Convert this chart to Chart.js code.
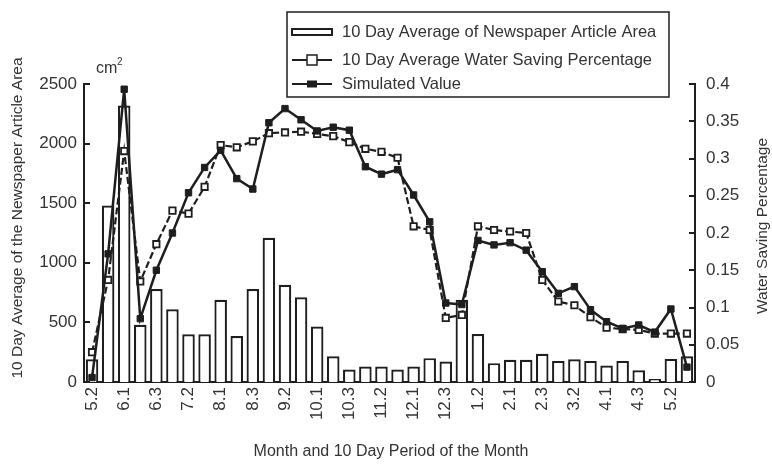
<!DOCTYPE html>
<html>
<head>
<meta charset="utf-8">
<script src="https://cdn.jsdelivr.net/npm/chart.js@4/dist/chart.umd.min.js"></script>
<style>
  html, body { margin: 0; padding: 0; background: #fff; }
  #wrap { position: relative; width: 772px; height: 469px; }
</style>
</head>
<body>
<div id="wrap"><canvas id="chart" width="772" height="469"></canvas></div>
<script>
// --- Data ---
const periods = [
  '5.2', '5.3', '6.1', '6.2', '6.3', '7.1', '7.2', '7.3', '8.1', '8.2', '8.3',
  '9.1', '9.2', '9.3', '10.1', '10.2', '10.3', '11.1', '11.2', '11.3',
  '12.1', '12.2', '12.3', '1.1', '1.2', '1.3', '2.1', '2.2', '2.3',
  '3.1', '3.2', '3.3', '4.1', '4.2', '4.3', '5.1', '5.2', '5.3'
];

// 10 day average newspaper article area (cm2), left axis
const areaValues = [
  190, 1480, 2320, 480, 780, 610, 400, 400, 690, 385, 780,
  1210, 815, 710, 465, 215, 105, 130, 130, 105,
  130, 200, 172, 690, 402, 158, 186, 186, 236,
  177, 190, 177, 138, 177, 99, 25, 194, 216
];

// 10 day average water saving percentage, right axis
const savingValues = [
  0.040, 0.137, 0.310, 0.135, 0.185, 0.230, 0.226, 0.262, 0.318, 0.315, 0.323,
  0.334, 0.335, 0.336, 0.333, 0.330, 0.322, 0.313, 0.309, 0.301,
  0.209, 0.204, 0.086, 0.090, 0.209, 0.204, 0.202, 0.200, 0.137,
  0.108, 0.103, 0.087, 0.073, 0.071, 0.070, 0.065, 0.065, 0.065
];

// simulated value, right axis
const simulatedValues = [
  0.006, 0.172, 0.393, 0.085, 0.150, 0.200, 0.254, 0.288, 0.311, 0.273, 0.259,
  0.348, 0.367, 0.352, 0.337, 0.342, 0.338, 0.289, 0.279, 0.285,
  0.251, 0.215, 0.106, 0.104, 0.190, 0.184, 0.187, 0.177, 0.148,
  0.119, 0.128, 0.097, 0.081, 0.072, 0.0765, 0.067, 0.098, 0.020
];

const areaTicks = ['0', '500', '1000', '1500', '2000', '2500'];
const savingTicks = ['0', '0.05', '0.1', '0.15', '0.2', '0.25', '0.3', '0.35', '0.4'];

const legendLabels = [
  '10 Day Average of Newspaper Article Area',
  '10 Day Average Water Saving Percentage',
  'Simulated Value'
];

// --- Styles ---
const ink = '#1e1e1e';
const textColor = '#333';
const fontFamily = '"Liberation Sans", Arial, Helvetica, sans-serif';

// --- Plugin: inward ticks, titles, cm2 unit, boxed legend ---
const decorations = {
  id: 'decorations',
  afterDraw(chart) {
    const ctx = chart.ctx;
    const area = chart.chartArea;
    const yl = chart.scales.y;
    const yr = chart.scales.y1;
    ctx.save();
    ctx.strokeStyle = ink;
    ctx.lineWidth = 2;

    // inward tick marks
    areaTicks.forEach(v => {
      const py = Math.round(yl.getPixelForValue(Number(v)));
      ctx.beginPath();
      ctx.moveTo(area.left, py);
      ctx.lineTo(area.left + 6, py);
      ctx.stroke();
    });
    savingTicks.forEach(v => {
      const py = Math.round(yr.getPixelForValue(Number(v)));
      ctx.beginPath();
      ctx.moveTo(area.right, py);
      ctx.lineTo(area.right - 6, py);
      ctx.stroke();
    });

    // axis titles
    ctx.fillStyle = textColor;
    ctx.font = '15.5px ' + fontFamily;
    ctx.textAlign = 'center';
    ctx.textBaseline = 'middle';
    ctx.save();
    ctx.translate(18, 218);
    ctx.rotate(-Math.PI / 2);
    ctx.fillText('10 Day Average of the Newspaper Article Area', 0, 0);
    ctx.restore();
    ctx.save();
    ctx.translate(763, 226);
    ctx.rotate(-Math.PI / 2);
    ctx.fillText('Water Saving Percentage', 0, 0);
    ctx.restore();
    ctx.font = '16px ' + fontFamily;
    ctx.fillText('Month and 10 Day Period of the Month', 391, 452);

    // unit
    ctx.textAlign = 'left';
    ctx.font = '16px ' + fontFamily;
    ctx.fillText('cm', 96, 69);
    ctx.font = '10px ' + fontFamily;
    ctx.fillText('2', 117, 62);

    // legend box
    const bx = 287, by = 12, bw = 382, bh = 85;
    ctx.fillStyle = '#fff';
    ctx.fillRect(bx, by, bw, bh);
    ctx.lineWidth = 1.5;
    ctx.strokeStyle = ink;
    ctx.strokeRect(bx, by, bw, bh);

    const rows = [32, 60, 84];
    const sx0 = bx + 5, sx1 = bx + 45, sxm = (sx0 + sx1) / 2;
    // row 1: bar
    ctx.lineWidth = 2;
    ctx.strokeRect(sx0, rows[0] - 3, sx1 - sx0, 6);
    // row 2: open square line
    ctx.beginPath();
    ctx.moveTo(sx0, rows[1]);
    ctx.lineTo(sx1, rows[1]);
    ctx.stroke();
    ctx.fillStyle = '#fff';
    ctx.fillRect(sxm - 5, rows[1] - 5, 10, 10);
    ctx.lineWidth = 1.5;
    ctx.strokeRect(sxm - 5, rows[1] - 5, 10, 10);
    // row 3: filled square line
    ctx.lineWidth = 2;
    ctx.beginPath();
    ctx.moveTo(sx0, rows[2]);
    ctx.lineTo(sx1, rows[2]);
    ctx.stroke();
    ctx.fillStyle = ink;
    ctx.fillRect(sxm - 5, rows[2] - 3.5, 10, 7);

    ctx.fillStyle = textColor;
    ctx.font = '16.5px ' + fontFamily;
    ctx.textBaseline = 'middle';
    legendLabels.forEach((t, i) => ctx.fillText(t, bx + 55, rows[i]));
    ctx.restore();
  }
};

// --- Chart ---
const ctx = document.getElementById('chart').getContext('2d');
new Chart(ctx, {
  data: {
    labels: periods,
    datasets: [
      {
        type: 'line',
        label: legendLabels[2],
        data: simulatedValues,
        yAxisID: 'y1',
        borderColor: ink,
        borderWidth: 2.5,
        pointStyle: 'rect',
        pointRadius: 4.5,
        pointBackgroundColor: ink,
        pointBorderColor: ink,
        pointBorderWidth: 1,
        tension: 0,
        order: 1
      },
      {
        type: 'line',
        label: legendLabels[1],
        data: savingValues,
        yAxisID: 'y1',
        borderColor: ink,
        borderWidth: 2.2,
        borderDash: [7, 3],
        pointStyle: 'rect',
        pointRadius: 4.5,
        pointBackgroundColor: '#fff',
        pointBorderColor: ink,
        pointBorderWidth: 1.8,
        tension: 0,
        order: 2
      },
      {
        type: 'bar',
        label: legendLabels[0],
        data: areaValues,
        yAxisID: 'y',
        backgroundColor: '#fff',
        borderColor: ink,
        borderWidth: 2.2,
        barPercentage: 0.78,
        categoryPercentage: 1.0,
        order: 3
      }
    ]
  },
  options: {
    responsive: false,
    animation: false,
    layout: { padding: { top: 84, left: 0, right: 0, bottom: 0 } },
    plugins: {
      legend: { display: false },
      tooltip: { enabled: false }
    },
    scales: {
      x: {
        offset: true,
        grid: { display: false, drawTicks: false },
        border: { display: true, color: ink, width: 2 },
        ticks: {
          autoSkip: false,
          minRotation: 90,
          maxRotation: 90,
          padding: 5,
          color: textColor,
          font: { family: fontFamily, size: 17 },
          callback: (v, i) => (i % 2 === 0 ? periods[i] : '')
        },
        afterFit: s => { s.height = 87; }
      },
      y: {
        position: 'left',
        min: 0,
        max: 2500,
        grid: { display: false, drawTicks: false },
        border: { display: true, color: ink, width: 2 },
        afterBuildTicks: s => { s.ticks = areaTicks.map(v => ({ value: Number(v) })); },
        ticks: {
          padding: 7,
          color: textColor,
          font: { family: fontFamily, size: 17 },
          callback: (v, i) => areaTicks[i]
        },
        afterFit: s => { s.width = 84; }
      },
      y1: {
        position: 'right',
        min: 0,
        max: 0.4,
        grid: { display: false, drawTicks: false },
        border: { display: true, color: ink, width: 2 },
        afterBuildTicks: s => { s.ticks = savingTicks.map(v => ({ value: Number(v) })); },
        ticks: {
          padding: 11,
          color: textColor,
          font: { family: fontFamily, size: 17 },
          callback: (v, i) => savingTicks[i]
        },
        afterFit: s => { s.width = 77; }
      }
    }
  },
  plugins: [decorations]
});
</script>
</body>
</html>
